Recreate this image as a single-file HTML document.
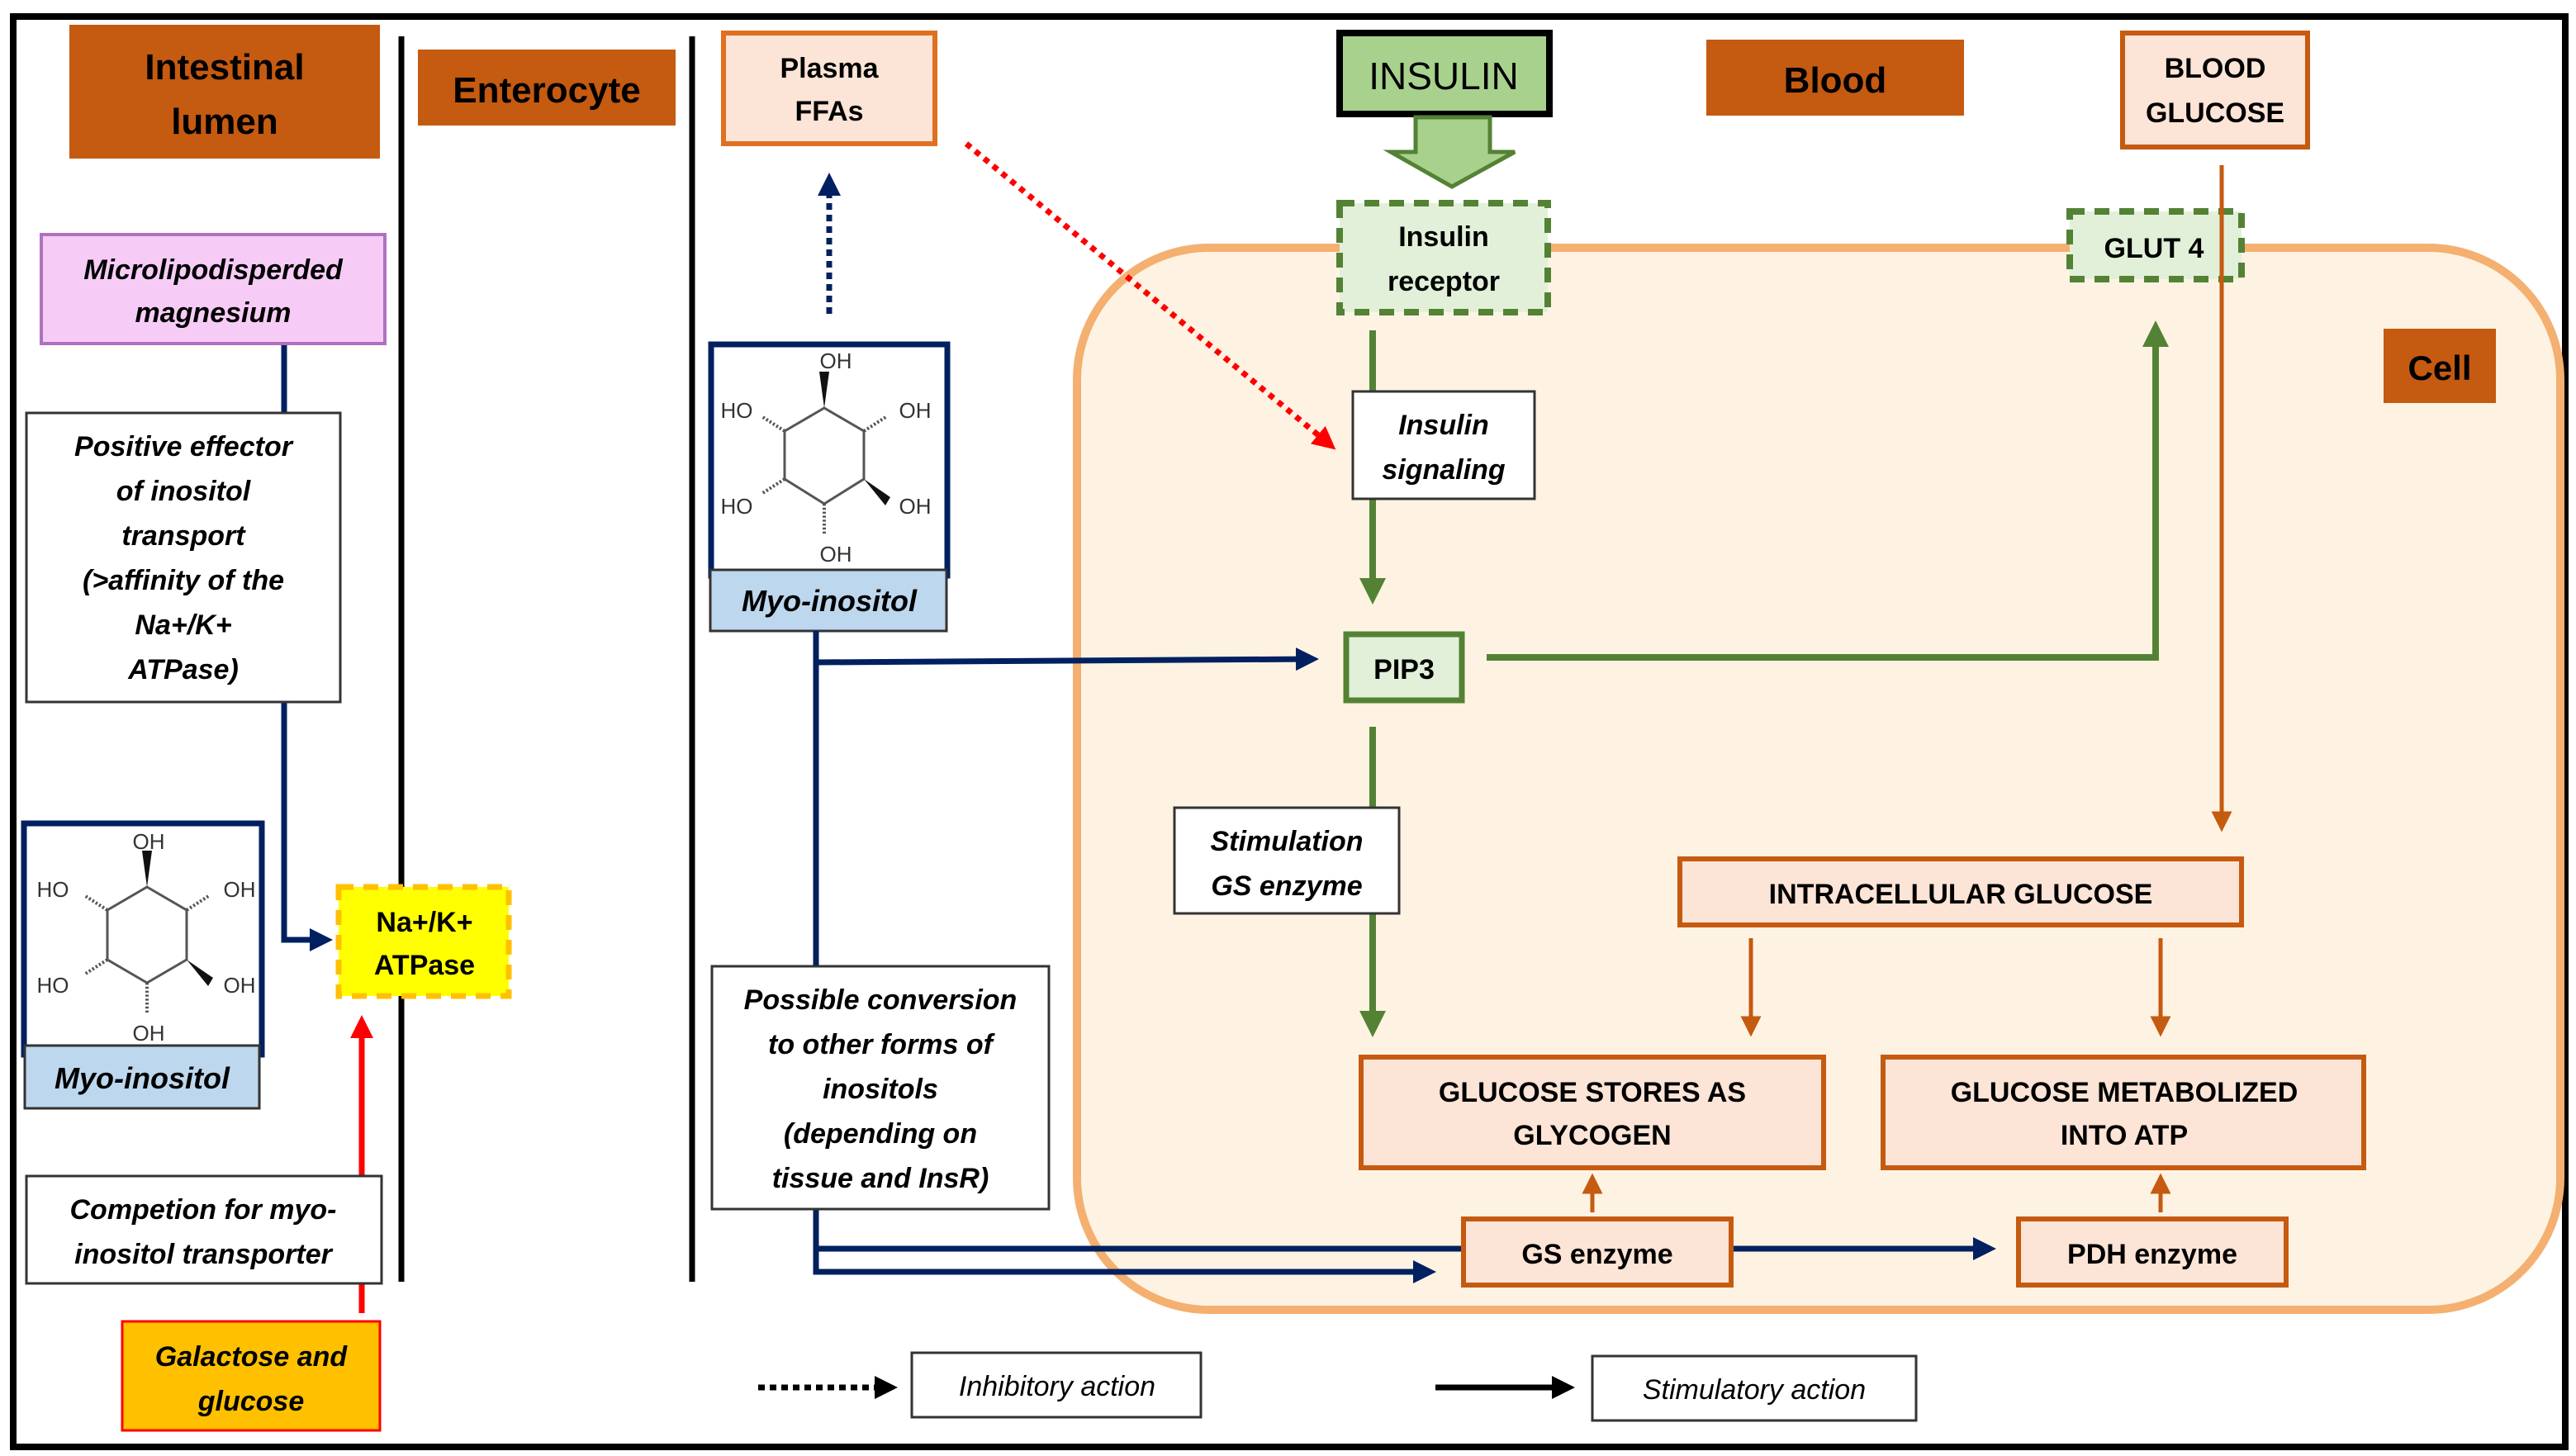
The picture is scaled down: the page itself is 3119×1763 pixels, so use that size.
<!DOCTYPE html>
<html><head><meta charset="utf-8"><style>
html,body{margin:0;padding:0;background:#fff;}
svg{display:block;}
text{font-family:"Liberation Sans",sans-serif;}
.b{font-weight:bold;}
.bi{font-weight:bold;font-style:italic;}
</style></head><body>
<svg width="3119" height="1763" viewBox="0 0 1559.5 881.5" xmlns="http://www.w3.org/2000/svg">
<defs>
<marker id="an" markerWidth="4" markerHeight="4" refX="3" refY="2" orient="auto" markerUnits="strokeWidth"><path d="M0,0L4,2L0,4z" fill="#002060"/></marker>
<marker id="ag" markerWidth="4" markerHeight="4" refX="3" refY="2" orient="auto" markerUnits="strokeWidth"><path d="M0,0L4,2L0,4z" fill="#548235"/></marker>
<marker id="ao" markerWidth="5" markerHeight="5" refX="3.5" refY="2.5" orient="auto" markerUnits="strokeWidth"><path d="M0,0L5,2.5L0,5z" fill="#C55A11"/></marker>
<marker id="ar" markerWidth="4" markerHeight="4" refX="3" refY="2" orient="auto" markerUnits="strokeWidth"><path d="M0,0L4,2L0,4z" fill="#FF0000"/></marker>
<marker id="ak" markerWidth="4" markerHeight="4" refX="3" refY="2" orient="auto" markerUnits="strokeWidth"><path d="M0,0L4,2L0,4z" fill="#000"/></marker>
</defs>
<rect x="0" y="0" width="1559.5" height="881.5" fill="#fff"/>
<rect x="8" y="10" width="1545" height="866" fill="none" stroke="#000" stroke-width="4"/>

<!-- cell -->
<rect x="652" y="150" width="898" height="643" rx="80" fill="#FEF3E2" stroke="#F4B070" stroke-width="5"/>

<!-- dividers -->
<line x1="243" y1="22" x2="243" y2="776" stroke="#000" stroke-width="3.5"/>
<line x1="419" y1="22" x2="419" y2="776" stroke="#000" stroke-width="3.5"/>

<!-- headers -->
<rect x="42" y="15" width="188" height="81" fill="#C55A11"/>
<text x="136" y="48" class="b" font-size="22" text-anchor="middle">Intestinal</text>
<text x="136" y="81" class="b" font-size="22" text-anchor="middle">lumen</text>
<rect x="253" y="30" width="156" height="46" fill="#C55A11"/>
<text x="331" y="62" class="b" font-size="22" text-anchor="middle">Enterocyte</text>
<rect x="1033" y="24" width="156" height="46" fill="#C55A11"/>
<text x="1111" y="56" class="b" font-size="22" text-anchor="middle">Blood</text>
<rect x="1443" y="199" width="68" height="45" fill="#C55A11"/>
<text x="1477" y="230" class="b" font-size="21" text-anchor="middle">Cell</text>

<!-- left column -->
<line x1="172" y1="208" x2="172" y2="250" stroke="#002060" stroke-width="3.5"/>
<polyline points="172,425 172,569 198,569" fill="none" stroke="#002060" stroke-width="3.5" marker-end="url(#an)"/>
<rect x="25" y="142" width="208" height="66" fill="#F6CCF6" stroke="#B070C0" stroke-width="2"/>
<text x="129" y="169" class="bi" font-size="17" text-anchor="middle">Microlipodisperded</text>
<text x="129" y="195" class="bi" font-size="17" text-anchor="middle">magnesium</text>
<rect x="16" y="250" width="190" height="175" fill="#fff" stroke="#333" stroke-width="1.5"/>
<g class="bi" font-size="17" text-anchor="middle">
<text x="111" y="276" class="bi">Positive effector</text>
<text x="111" y="303" class="bi">of inositol</text>
<text x="111" y="330" class="bi">transport</text>
<text x="111" y="357" class="bi">(&gt;affinity of the</text>
<text x="111" y="384" class="bi">Na+/K+</text>
<text x="111" y="411" class="bi">ATPase)</text>
</g>

<!-- left molecule -->
<g transform="translate(13,497)">
<rect x="1.5" y="1.5" width="144" height="140" fill="#fff" stroke="#002060" stroke-width="3.5"/>
<polygon points="76,40 100,54 100,84 76,98 52,84 52,54" fill="none" stroke="#555" stroke-width="1.5"/>
<polygon points="76,40 73,18 79,18" fill="#111"/>
<polygon points="100,84 116,95 113,100" fill="#111"/>
<line x1="100" y1="54" x2="114" y2="45" stroke="#555" stroke-width="2" stroke-dasharray="1.2,1.2"/>
<line x1="52" y1="54" x2="38" y2="45" stroke="#555" stroke-width="2" stroke-dasharray="1.2,1.2"/>
<line x1="52" y1="84" x2="38" y2="93" stroke="#555" stroke-width="2" stroke-dasharray="1.2,1.2"/>
<line x1="76" y1="98" x2="76" y2="116" stroke="#555" stroke-width="2" stroke-dasharray="1.2,1.2"/>
<g font-size="13" fill="#333" text-anchor="middle">
<text x="77" y="17">OH</text><text x="19" y="46">HO</text><text x="132" y="46">OH</text>
<text x="19" y="104">HO</text><text x="132" y="104">OH</text><text x="77" y="133">OH</text>
</g>
</g>
<rect x="15" y="633" width="142" height="38" fill="#BDD7EE" stroke="#333" stroke-width="1.5"/>
<text x="86" y="659" class="bi" font-size="18" text-anchor="middle">Myo-inositol</text>

<!-- Na/K -->
<line x1="219" y1="795" x2="219" y2="618" stroke="#FF0000" stroke-width="3.5" marker-end="url(#ar)"/>
<rect x="205" y="537" width="103" height="66" fill="#FFFF00" stroke="#FFC000" stroke-width="3.5" stroke-dasharray="9,6"/>
<text x="257" y="564" class="b" font-size="17" text-anchor="middle">Na+/K+</text>
<text x="257" y="590" class="b" font-size="17" text-anchor="middle">ATPase</text>

<rect x="16" y="712" width="215" height="65" fill="#fff" stroke="#333" stroke-width="1.5"/>
<text x="123" y="738" class="bi" font-size="17" text-anchor="middle">Competion for myo-</text>
<text x="123" y="765" class="bi" font-size="17" text-anchor="middle">inositol transporter</text>
<rect x="74" y="800" width="156" height="66" fill="#FFC000" stroke="#FF0000" stroke-width="1.5"/>
<text x="152" y="827" class="bi" font-size="17" text-anchor="middle">Galactose and</text>
<text x="152" y="854" class="bi" font-size="17" text-anchor="middle">glucose</text>

<!-- middle column -->
<rect x="438" y="20" width="128" height="67" fill="#FCE4D6" stroke="#E07020" stroke-width="3"/>
<text x="502" y="47" class="b" font-size="17" text-anchor="middle">Plasma</text>
<text x="502" y="73" class="b" font-size="17" text-anchor="middle">FFAs</text>
<line x1="502" y1="190" x2="502" y2="108" stroke="#002060" stroke-width="3.5" stroke-dasharray="4,3" marker-end="url(#an)"/>
<line x1="585" y1="87" x2="806" y2="270" stroke="#FF0000" stroke-width="3.5" stroke-dasharray="3.5,3.5" marker-end="url(#ar)"/>

<g transform="translate(429,207)">
<rect x="1.5" y="1.5" width="143" height="140" fill="#fff" stroke="#002060" stroke-width="3.5"/>
<polygon points="70,40 94,54 94,83 70,98 46,83 46,54" fill="none" stroke="#555" stroke-width="1.5"/>
<polygon points="70,40 67,18 73,18" fill="#111"/>
<polygon points="94,83 110,94 107,99" fill="#111"/>
<line x1="94" y1="54" x2="108" y2="45" stroke="#555" stroke-width="2" stroke-dasharray="1.2,1.2"/>
<line x1="46" y1="54" x2="32" y2="45" stroke="#555" stroke-width="2" stroke-dasharray="1.2,1.2"/>
<line x1="46" y1="83" x2="32" y2="92" stroke="#555" stroke-width="2" stroke-dasharray="1.2,1.2"/>
<line x1="70" y1="98" x2="70" y2="116" stroke="#555" stroke-width="2" stroke-dasharray="1.2,1.2"/>
<g font-size="13" fill="#333" text-anchor="middle">
<text x="77" y="16">OH</text><text x="17" y="46">HO</text><text x="125" y="46">OH</text>
<text x="17" y="104">HO</text><text x="125" y="104">OH</text><text x="77" y="133">OH</text>
</g>
</g>
<rect x="430" y="345" width="143" height="37" fill="#BDD7EE" stroke="#333" stroke-width="1.5"/>
<text x="502" y="370" class="bi" font-size="18" text-anchor="middle">Myo-inositol</text>

<polyline points="494,382 494,770 866,770" fill="none" stroke="#002060" stroke-width="3.5" marker-end="url(#an)"/>
<line x1="494" y1="401" x2="795" y2="399" stroke="#002060" stroke-width="3.5" marker-end="url(#an)"/>
<line x1="494" y1="756" x2="886" y2="756" stroke="#002060" stroke-width="3.5"/>
<line x1="1048" y1="756" x2="1205" y2="756" stroke="#002060" stroke-width="3.5" marker-end="url(#an)"/>

<rect x="431" y="585" width="204" height="147" fill="#fff" stroke="#333" stroke-width="1.5"/>
<g font-size="17" text-anchor="middle">
<text x="533" y="611" class="bi">Possible conversion</text>
<text x="533" y="638" class="bi">to other forms of</text>
<text x="533" y="665" class="bi">inositols</text>
<text x="533" y="692" class="bi">(depending on</text>
<text x="533" y="719" class="bi">tissue and InsR)</text>
</g>

<!-- insulin -->
<rect x="811" y="20" width="127" height="49" fill="#A9D18E" stroke="#000" stroke-width="4"/>
<text x="874" y="54" font-size="23" text-anchor="middle">INSULIN</text>
<polygon points="857,71 902,71 902,92 917,92 879,113 842,92 857,92" fill="#A9D18E" stroke="#548235" stroke-width="2.5"/>
<rect x="811" y="123" width="126" height="66" fill="#E2F0D9" stroke="#548235" stroke-width="4" stroke-dasharray="9,6"/>
<text x="874" y="149" class="b" font-size="17" text-anchor="middle">Insulin</text>
<text x="874" y="176" class="b" font-size="17" text-anchor="middle">receptor</text>

<line x1="831" y1="200" x2="831" y2="362" stroke="#548235" stroke-width="4" marker-end="url(#ag)"/>
<rect x="819" y="237" width="110" height="65" fill="#fff" stroke="#333" stroke-width="1.5"/>
<text x="874" y="263" class="bi" font-size="17" text-anchor="middle">Insulin</text>
<text x="874" y="290" class="bi" font-size="17" text-anchor="middle">signaling</text>

<rect x="815" y="384" width="70" height="40" fill="#E2F0D9" stroke="#548235" stroke-width="3.5"/>
<text x="850" y="411" class="b" font-size="17" text-anchor="middle">PIP3</text>
<polyline points="900,398 1305,398 1305,198" fill="none" stroke="#548235" stroke-width="4" marker-end="url(#ag)"/>
<line x1="831" y1="440" x2="831" y2="624" stroke="#548235" stroke-width="4" marker-end="url(#ag)"/>
<rect x="711" y="489" width="136" height="64" fill="#fff" stroke="#333" stroke-width="1.5"/>
<text x="779" y="515" class="bi" font-size="17" text-anchor="middle">Stimulation</text>
<text x="779" y="542" class="bi" font-size="17" text-anchor="middle">GS enzyme</text>

<!-- blood glucose -->
<rect x="1285" y="20" width="112" height="69" fill="#FCE4D6" stroke="#C55A11" stroke-width="3"/>
<text x="1341" y="47" class="b" font-size="17" text-anchor="middle">BLOOD</text>
<text x="1341" y="74" class="b" font-size="17" text-anchor="middle">GLUCOSE</text>
<rect x="1253" y="128" width="104" height="41" fill="#E2F0D9" stroke="#548235" stroke-width="4" stroke-dasharray="9,6"/>
<text x="1304" y="156" class="b" font-size="17" text-anchor="middle">GLUT 4</text>
<line x1="1345" y1="100" x2="1345" y2="500" stroke="#C55A11" stroke-width="2.5" marker-end="url(#ao)"/>

<rect x="1017" y="520" width="340" height="40" fill="#FCE4D6" stroke="#C55A11" stroke-width="3"/>
<text x="1187" y="547" class="b" font-size="17" text-anchor="middle">INTRACELLULAR GLUCOSE</text>
<line x1="1060" y1="568" x2="1060" y2="624" stroke="#C55A11" stroke-width="2.5" marker-end="url(#ao)"/>
<line x1="1308" y1="568" x2="1308" y2="624" stroke="#C55A11" stroke-width="2.5" marker-end="url(#ao)"/>

<rect x="824" y="640" width="280" height="67" fill="#FCE4D6" stroke="#C55A11" stroke-width="3"/>
<text x="964" y="667" class="b" font-size="17" text-anchor="middle">GLUCOSE STORES AS</text>
<text x="964" y="693" class="b" font-size="17" text-anchor="middle">GLYCOGEN</text>
<rect x="1140" y="640" width="291" height="67" fill="#FCE4D6" stroke="#C55A11" stroke-width="3"/>
<text x="1286" y="667" class="b" font-size="17" text-anchor="middle">GLUCOSE METABOLIZED</text>
<text x="1286" y="693" class="b" font-size="17" text-anchor="middle">INTO ATP</text>

<line x1="964" y1="734" x2="964" y2="714" stroke="#C55A11" stroke-width="2.5" marker-end="url(#ao)"/>
<line x1="1308" y1="734" x2="1308" y2="714" stroke="#C55A11" stroke-width="2.5" marker-end="url(#ao)"/>
<rect x="886" y="738" width="162" height="40" fill="#FCE4D6" stroke="#C55A11" stroke-width="3"/>
<text x="967" y="765" class="b" font-size="17" text-anchor="middle">GS enzyme</text>
<rect x="1222" y="738" width="162" height="40" fill="#FCE4D6" stroke="#C55A11" stroke-width="3"/>
<text x="1303" y="765" class="b" font-size="17" text-anchor="middle">PDH enzyme</text>

<!-- legend -->
<line x1="459" y1="840" x2="540" y2="840" stroke="#000" stroke-width="3.5" stroke-dasharray="4,3" marker-end="url(#ak)"/>
<rect x="552" y="819" width="175" height="39" fill="#fff" stroke="#333" stroke-width="1.5"/>
<text x="640" y="845" font-style="italic" font-size="17" text-anchor="middle">Inhibitory action</text>
<line x1="869" y1="840" x2="950" y2="840" stroke="#000" stroke-width="3.5" marker-end="url(#ak)"/>
<rect x="964" y="821" width="196" height="39" fill="#fff" stroke="#333" stroke-width="1.5"/>
<text x="1062" y="847" font-style="italic" font-size="17" text-anchor="middle">Stimulatory action</text>
</svg>
</body></html>
